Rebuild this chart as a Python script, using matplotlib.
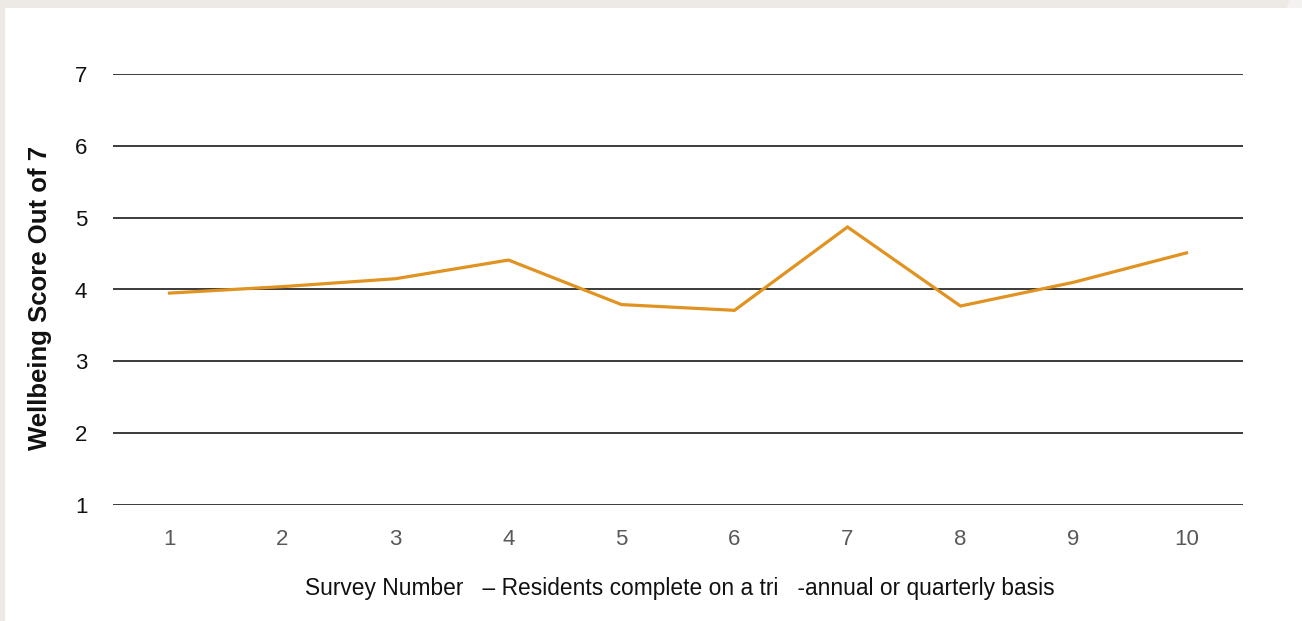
import matplotlib
matplotlib.use("Agg")
import matplotlib.pyplot as plt
from matplotlib.patches import Polygon

plt.rcParams['font.family'] = ['Liberation Sans', 'DejaVu Sans']

surveys = [1, 2, 3, 4, 5, 6, 7, 8, 9, 10]
scores = [3.95, 4.04, 4.15, 4.41, 3.79, 3.71, 4.87, 3.77, 4.10, 4.51]
yticks = [1, 2, 3, 4, 5, 6, 7]
xlabel = "Survey Number   – Residents complete on a tri   -annual or quarterly basis"
ylabel = "Wellbeing Score Out of 7"

W, H = 1302, 621
fig = plt.figure(figsize=(W / 100, H / 100), dpi=100)
fig.patch.set_facecolor('white')


def fpoly(pts, color):
    p = Polygon([(x / W, 1 - y / H) for x, y in pts], closed=True,
                transform=fig.transFigure, facecolor=color, edgecolor='none', zorder=-5)
    fig.patches.append(p)


# beige frame: left strip and top strip
fpoly([(0, 0), (5, 0), (5, 621), (0, 621)], '#EDE9E5')
fpoly([(0, 0), (1290, 0), (1287, 8), (0, 8)], '#EDE9E5')
fpoly([(1290, 0), (1302, 0), (1302, 8), (1287, 8)], '#F3F2F0')

left, right, top, bottom = 113, 1243, 74, 505
ax = fig.add_axes([left / W, 1 - bottom / H, (right - left) / W, (bottom - top) / H])
ax.set_facecolor('none')
ax.plot(surveys, scores, color='#E09320', linewidth=2.3, solid_joinstyle='miter', zorder=3)
ax.set_xlim(0.5, 10.5)
ax.set_ylim(1, 7)
ax.set_yticks(yticks)
ax.set_xticks(surveys)
for y in yticks:
    ax.axhline(y, color='#1a1a1a', linewidth=1.2, zorder=1)
for s in ax.spines.values():
    s.set_visible(False)
ax.tick_params(axis='both', length=0)
ax.tick_params(axis='y', pad=18.5, labelsize=16, labelcolor='#111111')
ax.tick_params(axis='x', pad=17.5, labelsize=16, labelcolor='#595959')

fig.text(680 / W, 1 - 588 / H, xlabel, fontsize=16.4, color='#111111',
         ha='center', va='center')
fig.text(40 / W, 1 - 298 / H, ylabel, fontsize=18.5, fontweight='bold', color='#111111',
         ha='center', va='center', rotation=90)

fig.savefig('out.png', dpi=100, facecolor=fig.get_facecolor())
